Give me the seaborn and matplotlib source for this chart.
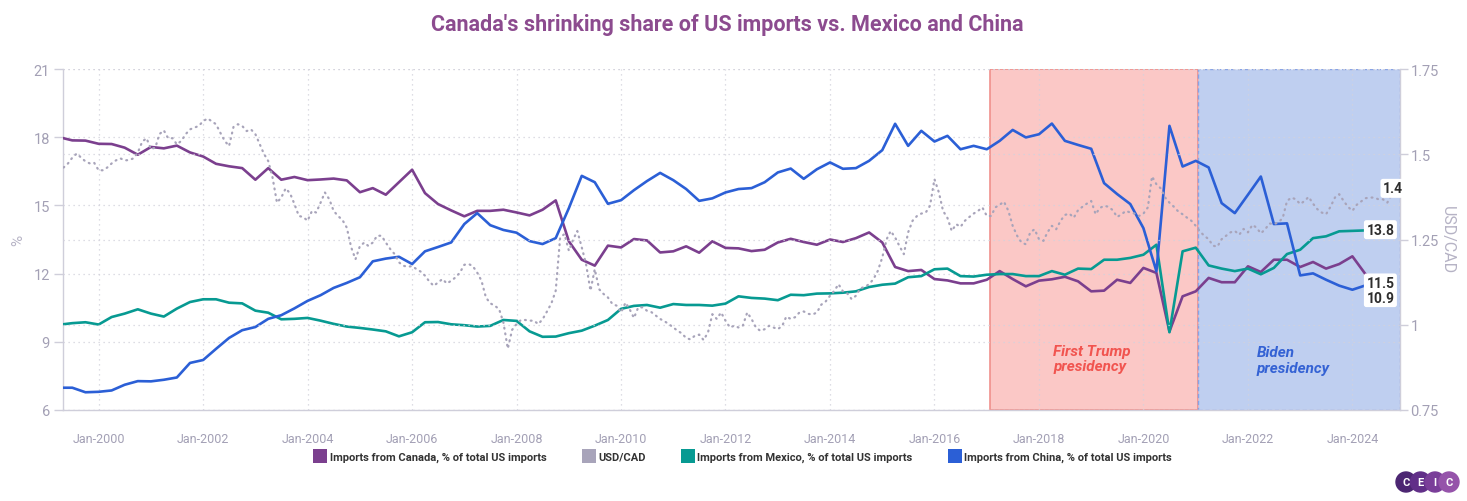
import numpy as np
import pandas as pd
import matplotlib
matplotlib.use("Agg")
import matplotlib.pyplot as plt
from matplotlib.lines import Line2D
from matplotlib.patches import Circle
import seaborn as sns

# ---------------- data ----------------
quarter_first = "1999-04-01"   # quarterly observations (Q-start dates)
quarter_last = "2024-07-01"

canada = [18.0, 17.86, 17.85,
          17.71, 17.70, 17.54, 17.23,
          17.57, 17.51, 17.63, 17.33,
          17.15, 16.83, 16.72, 16.64,
          16.13, 16.64, 16.13, 16.25,
          16.11, 16.14, 16.18, 16.10,
          15.58, 15.76, 15.47, 16.02,
          16.57, 15.54, 15.06, 14.78,
          14.52, 14.76, 14.76, 14.81,
          14.69, 14.56, 14.81, 15.22,
          13.42, 12.61, 12.35, 13.23,
          13.15, 13.52, 13.46, 12.93,
          12.98, 13.20, 12.92, 13.42,
          13.13, 13.11, 12.99, 13.05,
          13.37, 13.53, 13.39, 13.27,
          13.50, 13.39, 13.56, 13.81,
          13.37, 12.29, 12.11, 12.16,
          11.76, 11.70, 11.57, 11.57,
          11.73, 12.11, 11.76, 11.44,
          11.69, 11.75, 11.86, 11.66,
          11.22, 11.25, 11.73, 11.59,
          12.25, 12.03, 9.45, 11.00,
          11.22, 11.81, 11.62, 11.62,
          12.32, 12.07, 12.61, 12.61,
          12.29, 12.51, 12.22, 12.42,
          12.76, 11.98, 11.5]

mexico = [9.75, 9.82, 9.86,
          9.76, 10.09, 10.24, 10.43,
          10.24, 10.11, 10.46, 10.75,
          10.87, 10.87, 10.72, 10.69,
          10.37, 10.28, 9.99, 10.01,
          10.05, 9.93, 9.79, 9.67,
          9.61, 9.54, 9.46, 9.24,
          9.42, 9.86, 9.87, 9.77,
          9.73, 9.67, 9.70, 9.96,
          9.92, 9.46, 9.22, 9.23,
          9.38, 9.49, 9.71, 9.96,
          10.45, 10.58, 10.62, 10.50,
          10.66, 10.62, 10.62, 10.59,
          10.68, 11.00, 10.93, 10.90,
          10.83, 11.07, 11.05, 11.12,
          11.13, 11.16, 11.22, 11.41,
          11.51, 11.56, 11.84, 11.89,
          12.19, 12.22, 11.89, 11.87,
          11.95, 11.98, 11.98, 11.89,
          11.89, 12.11, 11.95, 12.22,
          12.20, 12.61, 12.61, 12.69,
          12.83, 13.27, 9.42, 12.98,
          13.14, 12.36, 12.22, 12.11,
          12.22, 11.97, 12.25, 12.86,
          13.05, 13.56, 13.64, 13.86,
          13.88, 13.90, 13.8]

china = [6.98, 6.98, 6.78,
         6.80, 6.86, 7.11, 7.27,
         7.26, 7.33, 7.43, 8.07,
         8.20, 8.69, 9.17, 9.51,
         9.65, 10.01, 10.17, 10.47,
         10.80, 11.05, 11.37, 11.59,
         11.84, 12.54, 12.66, 12.74,
         12.42, 12.98, 13.17, 13.37,
         14.18, 14.66, 14.13, 13.92,
         13.80, 13.43, 13.30, 13.56,
         14.88, 16.30, 16.02, 15.07,
         15.23, 15.67, 16.07, 16.43,
         16.11, 15.72, 15.20, 15.31,
         15.57, 15.72, 15.76, 16.02,
         16.45, 16.62, 16.17, 16.59,
         16.89, 16.61, 16.64, 16.96,
         17.43, 18.59, 17.62, 18.28,
         17.81, 18.06, 17.47, 17.62,
         17.47, 17.84, 18.32, 17.99,
         18.13, 18.60, 17.84, 17.66,
         17.49, 15.98, 15.50, 15.06,
         14.00, 12.10, 18.50, 16.71,
         16.96, 16.67, 15.10, 14.66,
         15.47, 16.27, 14.18, 14.21,
         11.92, 12.01, 11.73, 11.47,
         11.29, 11.48, 10.9]

usdcad_first = "1999-05-01"   # monthly readings
usdcad = [1.461, 1.473, 1.490, 1.502, 1.490, 1.479, 1.473, 1.475,
          1.453, 1.453, 1.461, 1.473, 1.482, 1.488, 1.482, 1.483, 1.488, 1.505, 1.537, 1.547,
          1.515, 1.520, 1.559, 1.570, 1.547, 1.547, 1.529, 1.539, 1.559, 1.573, 1.578, 1.583,
          1.597, 1.605, 1.597, 1.588, 1.563, 1.539, 1.524, 1.580, 1.588, 1.583, 1.568, 1.573,
          1.559, 1.529, 1.502, 1.480, 1.432, 1.358, 1.373, 1.400, 1.385, 1.354, 1.319, 1.316,
          1.305, 1.334, 1.329, 1.358, 1.388, 1.368, 1.334, 1.319, 1.307, 1.285, 1.227, 1.192,
          1.231, 1.241, 1.231, 1.241, 1.261, 1.261, 1.241, 1.222, 1.207, 1.183, 1.173, 1.170,
          1.172, 1.163, 1.156, 1.144, 1.127, 1.114, 1.124, 1.134, 1.121, 1.129, 1.139, 1.153,
          1.176, 1.178, 1.172, 1.153, 1.129, 1.080, 1.063, 1.056, 1.046, 1.007, 0.930, 0.985,
          1.002, 1.014, 1.014, 1.012, 1.012, 1.002, 1.016, 1.039, 1.063, 1.100, 1.256, 1.266,
          1.217, 1.251, 1.275, 1.227, 1.178, 1.100, 1.163, 1.104, 1.090, 1.080, 1.061, 1.056,
          1.036, 1.065, 1.046, 1.020, 1.051, 1.051, 1.041, 1.037, 1.027, 1.017, 1.010, 1.002,
          0.992, 0.982, 0.975, 0.961, 0.957, 0.968, 0.971, 0.955, 0.978, 1.031, 1.017, 1.036,
          1.012, 0.992, 0.997, 0.992, 0.997, 1.036, 1.017, 0.992, 0.982, 0.987, 0.997, 0.992,
          0.987, 0.997, 1.024, 1.017, 1.022, 1.036, 1.039, 1.032, 1.030, 1.036, 1.059, 1.068,
          1.085, 1.100, 1.119, 1.098, 1.092, 1.075, 1.085, 1.107, 1.111, 1.119, 1.134, 1.158,
          1.197, 1.251, 1.275, 1.256, 1.231, 1.207, 1.271, 1.305, 1.319, 1.326, 1.329, 1.349,
          1.427, 1.388, 1.334, 1.313, 1.275, 1.295, 1.287, 1.305, 1.316, 1.326, 1.334, 1.344,
          1.319, 1.319, 1.344, 1.352, 1.361, 1.334, 1.290, 1.261, 1.241, 1.236, 1.271, 1.280,
          1.251, 1.246, 1.271, 1.290, 1.280, 1.305, 1.322, 1.326, 1.314, 1.336, 1.346, 1.355,
          1.363, 1.324, 1.342, 1.349, 1.346, 1.336, 1.316, 1.324, 1.334, 1.329, 1.326, 1.319,
          1.326, 1.344, 1.435, 1.412, 1.400, 1.373, 1.358, 1.346, 1.332, 1.324, 1.314, 1.305,
          1.290, 1.273, 1.261, 1.251, 1.232, 1.229, 1.251, 1.261, 1.271, 1.275, 1.264, 1.281,
          1.271, 1.293, 1.285, 1.268, 1.280, 1.297, 1.295, 1.300, 1.313, 1.363, 1.373, 1.368,
          1.354, 1.363, 1.375, 1.355, 1.339, 1.329, 1.324, 1.346, 1.373, 1.383, 1.363, 1.346,
          1.334, 1.352, 1.361, 1.371, 1.373, 1.373, 1.368, 1.368, 1.358, 1.381, 1.400]

series_labels = ["Imports from Canada, % of total US imports", "USD/CAD",
                 "Imports from Mexico, % of total US imports",
                 "Imports from China, % of total US imports"]
periods = [("First Trump\npresidency", "2017-01-20", "2021-01-20"),
           ("Biden\npresidency", "2021-01-20", "2024-11-28")]
title = "Canada's shrinking share of US imports vs. Mexico and China"

# ---------------- style ----------------
C_CAN = "#7B3F8E"
C_USD = "#A8A4BA"
C_MEX = "#079A92"
C_CHN = "#2B5FD6"
GRID = "#D3D2DC"
TICK = "#A3A0B5"
AXC = "#CFCEDA"

sns.set_theme(style="white")
plt.rcParams["font.family"] = ["Roboto", "DejaVu Sans"]

W, H = 1467, 502
fig = plt.figure(figsize=(W / 100, H / 100), dpi=100)
ax = fig.add_axes([63 / W, 1 - 411 / H, (1400 - 63) / W, (411 - 70) / H])
ax2 = ax.twinx()

qd = pd.date_range(quarter_first, quarter_last, freq="QS-JAN")
md = pd.date_range(usdcad_first, periods=len(usdcad), freq="MS")
df = pd.DataFrame({"date": qd, "canada": canada, "mexico": mexico, "china": china})
du = pd.DataFrame({"date": md, "usdcad": usdcad})

# shaded periods
(t_lab, t0, t1), (b_lab, b0, b1) = periods
ax.axvspan(pd.Timestamp(t0), pd.Timestamp(t1), facecolor="#FBC8C6",
           edgecolor="#F0908C", lw=1.2, zorder=0.2)
ax.axvspan(pd.Timestamp(b0), pd.Timestamp(b1), facecolor="#BFCFF0",
           edgecolor="#88A4E6", lw=1.0, ls=(0, (3, 2)), zorder=0.2)
ax.text(pd.Timestamp("2018-04-10"), 8.25, t_lab, color="#F1544F", fontsize=11,
        fontweight="bold", fontstyle="italic", va="center",
        ha="left", linespacing=1.1, zorder=3)
ax.text(pd.Timestamp("2022-03-05"), 8.2, b_lab, color="#3462D4", fontsize=11,
        fontweight="bold", fontstyle="italic", va="center",
        ha="left", linespacing=1.1, zorder=3)

# lines
for col, c in [("canada", C_CAN), ("mexico", C_MEX), ("china", C_CHN)]:
    sns.lineplot(data=df, x="date", y=col, ax=ax, color=c, lw=1.9, zorder=3)
sns.lineplot(data=du, x="date", y="usdcad", ax=ax2, color=C_USD, lw=1.6,
             linestyle=(0, (0.4, 2.2)), dash_capstyle="round")

# axes ranges
ax.set_xlim(pd.Timestamp("1999-04-27"), pd.Timestamp("2024-11-29"))
ax.set_ylim(6, 21)
ax2.set_ylim(0.75, 1.75)
ax.set_yticks([6, 9, 12, 15, 18, 21])
ax2.set_yticks([0.75, 1.0, 1.25, 1.5, 1.75])
ax2.set_yticklabels(["0.75", "1", "1.25", "1.5", "1.75"])
xt = pd.date_range("2000-01-01", "2024-01-01", freq="2YS")
ax.set_xticks(xt)
ax.set_xticklabels([d.strftime("%b-%Y") for d in xt])
ax.set_xlabel("")
ax.set_ylabel("")
ax2.set_ylabel("")

# grids
ax.set_axisbelow(True)
ax.grid(True, axis="both", color=GRID, lw=0.9, ls=(0, (1, 3)))
ax2.grid(True, axis="y", color=GRID, lw=0.9, ls=(0, (1, 3)))

# spines & ticks
for a in (ax, ax2):
    for s in a.spines.values():
        s.set_visible(False)
ax.spines["left"].set_visible(True)
ax.spines["bottom"].set_visible(True)
ax2.spines["right"].set_visible(True)
for s in (ax.spines["left"], ax.spines["bottom"], ax2.spines["right"]):
    s.set_color(AXC)
    s.set_linewidth(1.0)
ax.tick_params(axis="y", length=6.5, width=1, color=AXC, labelcolor=TICK,
               labelsize=10.5, pad=3)
ax.tick_params(axis="x", length=6, width=1, color=AXC, labelcolor=TICK,
               labelsize=9, pad=10)
ax2.tick_params(axis="y", length=6, width=1, color=AXC, labelcolor=TICK,
                labelsize=10.5, pad=1.5)

# axis titles
fig.text(18 / W, 1 - 240 / H, "%", rotation=90, color="#B6B3C5", fontsize=11,
         ha="center", va="center")
fig.text(1447 / W, 1 - 240 / H, "USD/CAD", rotation=270, color="#B6B3C5",
         fontsize=11.5, ha="center", va="center")

# end labels
bbox = dict(boxstyle="round,pad=0.18", fc="white", ec="none")
for vals, dates, a, off in [(usdcad, md, ax2, (-3, 0)), (mexico, qd, ax, (2, 3)),
                            (canada, qd, ax, (2, 2)), (china, qd, ax, (2, 1))]:
    a.annotate(f"{vals[-1]:.1f}", (dates[-1], vals[-1]), xytext=off,
               textcoords="offset pixels", ha="center", va="center",
               fontsize=10, fontweight="bold", color="#2E2E2E", bbox=bbox,
               zorder=6, annotation_clip=False)

# title
fig.text(727 / W, 1 - 25 / H, title, ha="center", va="center", fontsize=15.5,
         fontweight="bold", color="#8C4B8F")

# legend
handles = [Line2D([], [], marker="s", ls="", markersize=9.5, markeredgewidth=0, color=c)
           for c in (C_CAN, C_USD, C_MEX, C_CHN)]
fig.legend(handles, series_labels, loc="center", bbox_to_anchor=(744 / W, 1 - 458 / H),
           ncol=4, frameon=False, handlelength=0.8, handletextpad=0.45,
           columnspacing=3.4, prop=dict(family=["Roboto"], weight="bold", size=8),
           labelcolor="#333333")

# CEIC logo
lax = fig.add_axes([1394 / W, 1 - 494 / H, 66 / W, 22 / H])
lax.set_xlim(0, 66)
lax.set_ylim(0, 22)
lax.axis("off")
for i, (cx, col, ch) in enumerate(zip([12, 26.5, 41, 55],
                                      ["#4C2672", "#612F88", "#7A3E99", "#9553AA"],
                                      ["C", "E", "I", "C"])):
    lax.add_patch(Circle((cx, 11), 10, color=col, zorder=i))
    lax.text(cx, 11, ch, color="white", fontsize=8, fontweight="bold",
             ha="center", va="center", zorder=10)

fig.savefig("out.png", dpi=100)
